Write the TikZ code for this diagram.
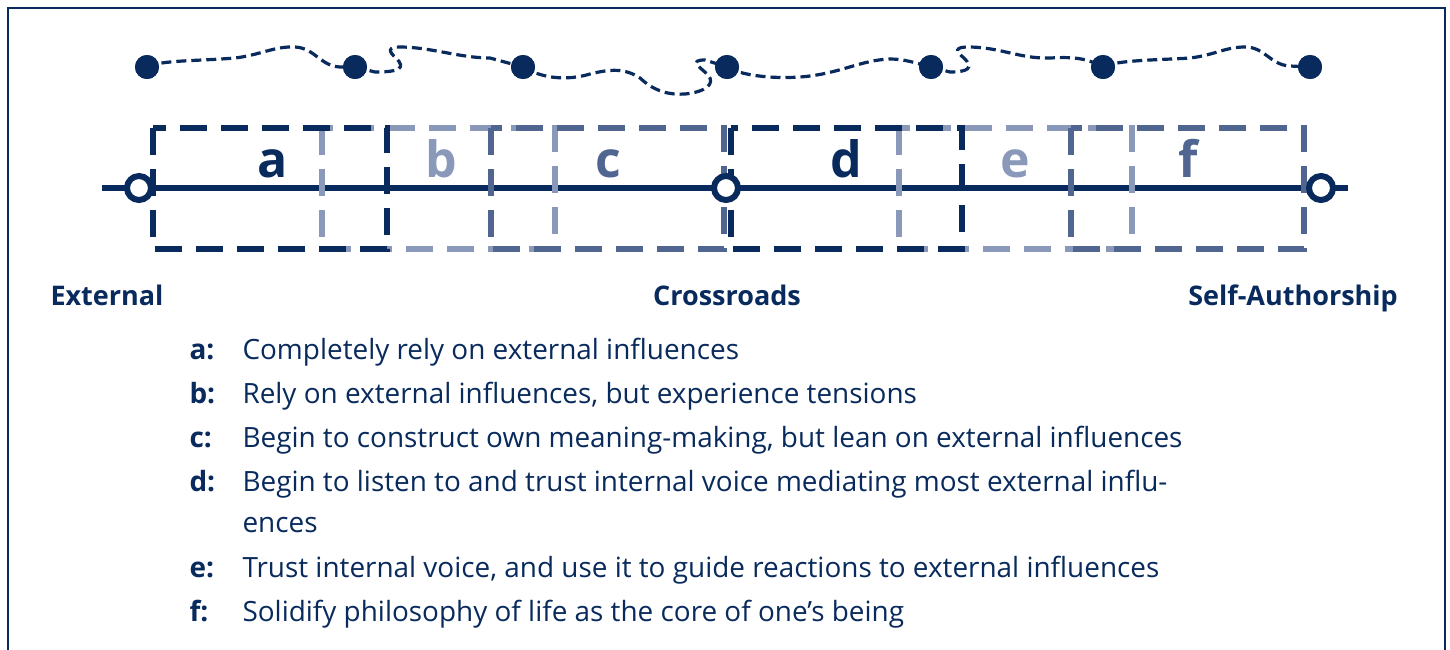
\documentclass[tikz,border=0pt]{standalone}
\usepackage{fontspec}
\setmainfont{Open Sans}
\definecolor{navy}{RGB}{8,42,92}
\definecolor{midblue}{RGB}{80,102,144}
\definecolor{lightblue}{RGB}{138,152,186}
\begin{document}
\begin{tikzpicture}[x=1pt,y=-1pt,
  frame/.style={draw=navy,line width=2.5pt},
  axis/.style={draw=navy,line width=6pt},
  stagebox/.style={line width=6.5pt,dash pattern=on 27pt off 14pt},
  opendot/.style={circle,draw=navy,line width=6pt,fill=white,minimum size=24pt,inner sep=0pt},
  fulldot/.style={circle,fill=navy,minimum size=24pt,inner sep=0pt},
  wavy/.style={draw=navy,line width=3.2pt,dash pattern=on 10pt off 5pt},
  boxlabel/.style={font=\fontsize{50}{50}\selectfont\bfseries,anchor=base},
  heading/.style={font=\fontsize{27}{27}\selectfont\bfseries,text=navy,anchor=base},
  key/.style={font=\fontsize{27.9}{27.9}\selectfont\bfseries,text=navy,anchor=base west},
  desc/.style={font=\fontsize{27.9}{27.9}\selectfont,text=navy,anchor=base west}]
\useasboundingbox (0,0) rectangle (1450,649);
\begin{scope}
\clip (0,0) rectangle (1450,649);
\draw[frame] (8,8) rectangle (1445,700);
\end{scope}

% dots on the wavy path
\node[fulldot] (p1) at (147,67) {};
\node[fulldot] (p2) at (355,67) {};
\node[fulldot] (p3) at (523,67) {};
\node[fulldot] (p4) at (727,67) {};
\node[fulldot] (p5) at (931,67) {};
\node[fulldot] (p6) at (1103,67) {};
\node[fulldot] (p7) at (1310,67) {};

\draw[wavy] (p1.center) .. controls (160,60) and (200,61) .. (235,58) .. controls (260,55) and (275,46) .. (295,47) .. controls (315,48) and (320,66) .. (340,67) -- (p2.center);
\draw[wavy] (p2.center) -- (375,72) .. controls (400,72) and (406,68) .. (396,58) .. controls (388,51) and (388,47) .. (400,47) .. controls (430,47) and (460,58) .. (490,58) -- (p3.center);
\draw[wavy] (p3.center) .. controls (545,80) and (570,80) .. (590,74) .. controls (610,69) and (625,68) .. (640,78) .. controls (655,92) and (670,95) .. (685,94) .. controls (705,92) and (716,84) .. (708,75) .. controls (700,67) and (688,60) .. (705,60) -- (p4.center);
\draw[wavy] (p4.center) .. controls (740,75) and (770,79) .. (800,77) .. controls (840,74) and (860,60) .. (890,59) .. controls (905,59) and (915,63) .. (p5.center);
\draw[wavy] (p5.center) -- (950,72) .. controls (968,72) and (974,68) .. (964,58) .. controls (955,51) and (955,47) .. (968,47) .. controls (1000,47) and (1020,59) .. (1050,58) .. controls (1070,57) and (1085,57) .. (p6.center);
\draw[wavy] (p6.center) .. controls (1115,60) and (1160,60) .. (1190,58) .. controls (1215,55) and (1225,47) .. (1245,47) .. controls (1265,47) and (1270,65) .. (1290,66) -- (p7.center);
% redraw dots on top of the path
\foreach \n in {p1,p2,p3,p4,p5,p6,p7} \fill[navy] (\n) circle (12pt);

% axis
\coordinate (axl) at (102,188);
\coordinate (axr) at (1348,188);
\draw[axis] (axl) -- (axr);

% stage boxes: light, then medium, then dark
\draw[stagebox,draw=lightblue] (322,128) rectangle (555,249);
\draw[stagebox,draw=lightblue] (899,128) rectangle (1132,249);
\draw[stagebox,draw=midblue] (491,128) rectangle (724,249);
\draw[stagebox,draw=midblue] (1071,128) rectangle (1304,249);
\draw[stagebox,draw=navy] (153,128) rectangle (387,249);
\draw[stagebox,draw=navy] (731,128) rectangle (962,249);

\node[boxlabel,text=navy] (la) at (273,177) {a};
\node[boxlabel,text=lightblue] (lb) at (441,177) {b};
\node[boxlabel,text=midblue] (lc) at (608,177) {c};
\node[boxlabel,text=navy] (ld) at (846,177) {d};
\node[boxlabel,text=lightblue] (le) at (1015,177) {e};
\node[boxlabel,text=midblue] (lf) at (1188,177) {f};

% open dots on axis
\node[opendot] (ext) at (139,188) {};
\node[opendot] (cross) at (726,188) {};
\node[opendot] (self) at (1321,188) {};

\node[heading] (hext) at (107,305) {External};
\node[heading] (hcross) at (727,305) {Crossroads};
\node[heading] (hself) at (1293,305) {Self-Authorship};

% legend
\node[key] (ka) at (186,359) {a:};
\node[desc] (da) at (239,359) {Completely rely on external influences};
\node[key] (kb) at (186,403) {b:};
\node[desc] (db) at (239,403) {Rely on external influences, but experience tensions};
\node[key] (kc) at (186,447) {c:};
\node[desc] (dc) at (239,447) {Begin to construct own meaning-making, but lean on external influences};
\node[key] (kd) at (186,491) {d:};
\node[desc] (dd) at (239,491) {Begin to listen to and trust internal voice mediating most external influ-};
\node[desc] (dd2) at (239,532) {ences};
\node[key] (ke) at (186,577) {e:};
\node[desc] (de) at (239,577) {Trust internal voice, and use it to guide reactions to external influences};
\node[key] (kf) at (186,621) {f:};
\node[desc] (df) at (239,621) {Solidify philosophy of life as the core of one’s being};
\end{tikzpicture}
\end{document}
